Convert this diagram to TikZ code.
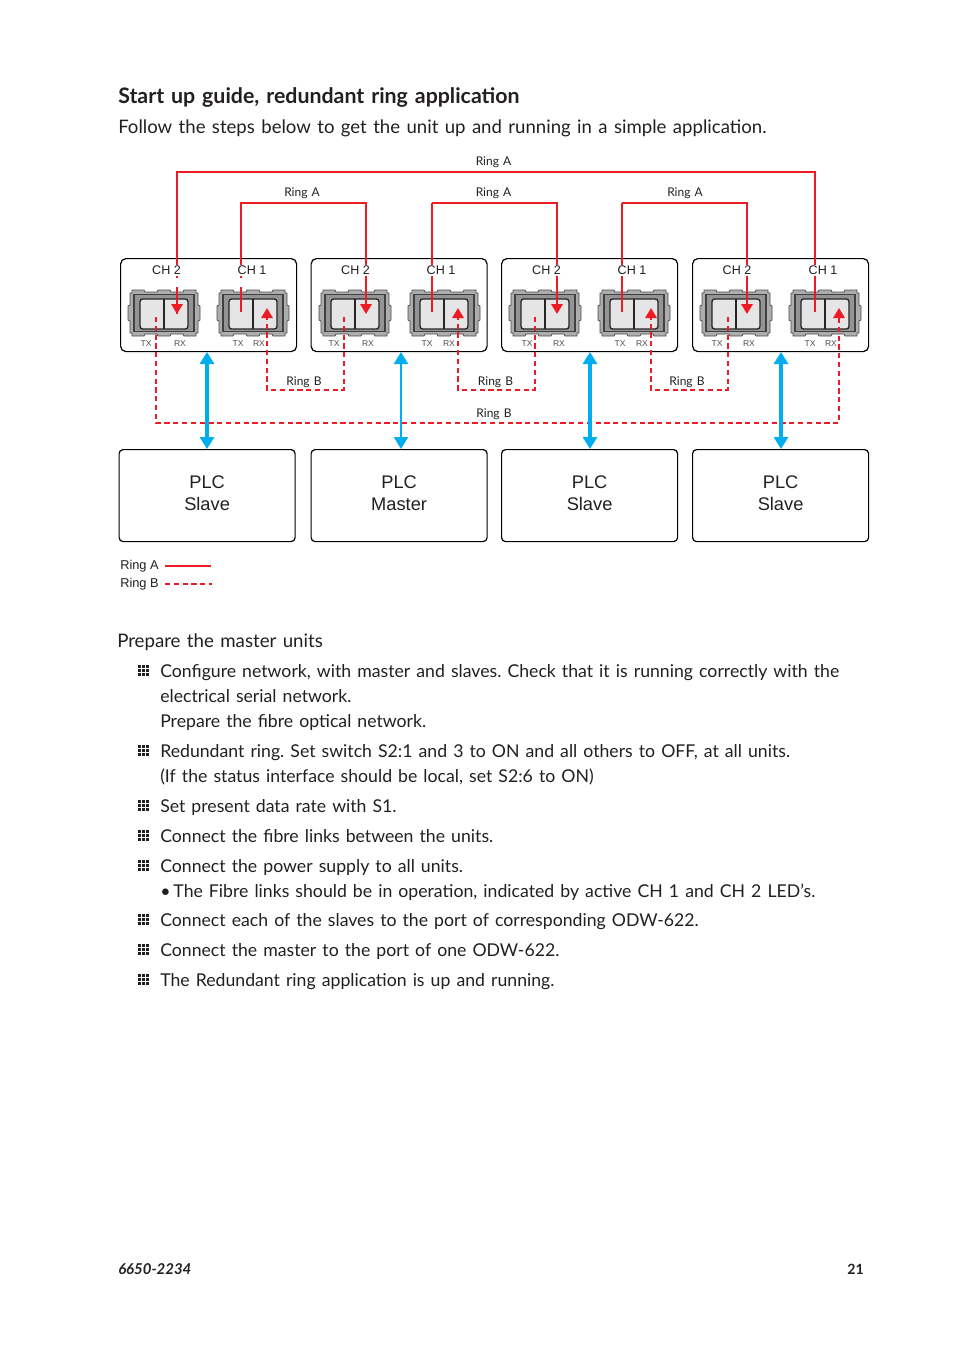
\documentclass[tikz,border=0pt]{standalone}
\usepackage{fontspec}
\setmainfont[WordSpace=1.34]{Lato}
\newfontfamily\labelfont{Liberation Sans}
\usetikzlibrary{arrows.meta}
\definecolor{ringred}{HTML}{ED1C24}
\definecolor{linkblue}{HTML}{00AEEF}
\definecolor{inktext}{HTML}{231F20}
\frenchspacing
\tikzset{
    unitbox/.style={draw=black,line width=0.9pt,rounded corners=4pt},
    plcbox/.style={draw=black,line width=0.9pt,rounded corners=3pt,align=center,text depth=4pt,font=\labelfont\fontsize{13.7}{16.5}\selectfont,text=inktext},
    ringa/.style={draw=ringred,line width=1.5pt},
    ringafat/.style={draw=ringred,line width=2.2pt},
    ringb/.style={draw=ringred,line width=1.5pt,dash pattern=on 3.9pt off 2.7pt},
    redtip/.style={-{Triangle[length=7.5pt,width=8.5pt]}},
    linkarrow/.style={draw=linkblue,line width=2.3pt,{Triangle[length=9pt,width=10.5pt]}-{Triangle[length=9pt,width=10.5pt]}},
    chlabel/.style={font=\labelfont\fontsize{9.4}{11}\selectfont,text=inktext,fill=white,inner sep=0.6pt},
    portlabel/.style={font=\labelfont\fontsize{6.4}{8}\selectfont,text=inktext!80,inner sep=0pt},
    ringlabel/.style={font=\fontsize{9}{11}\selectfont,text=inktext,inner sep=0pt},
    legendlabel/.style={font=\labelfont\fontsize{9.6}{11}\selectfont,text=inktext,inner sep=0pt,anchor=west},
    bodyline/.style={font=\fontsize{13.25}{16}\selectfont,text=inktext,inner sep=0pt,anchor=base west},
    pics/fibreport/.style={code={
        \draw[fill=black!32,draw=black!70,line width=0.6pt] (4,0) -- (16,0) -- (17,2) -- (29,2) -- (30,0) -- (42,0) -- (43,2) -- (55,2) -- (56,0) -- (68,0) -- (68,3) -- (70,3) -- (70,15) -- (72,16) -- (72,30) -- (70,31) -- (70,43) -- (68,43) -- (68,46) -- (56,46) -- (55,44) -- (43,44) -- (42,46) -- (30,46) -- (29,44) -- (17,44) -- (16,46) -- (4,46) -- (4,43) -- (2,43) -- (2,31) -- (0,30) -- (0,16) -- (2,15) -- (2,3) -- (4,3) -- cycle;
        \draw[fill=black!42,draw=black!75,line width=0.9pt] (6,4.5) rectangle (66,41.5);
        \draw[fill=black!10,draw=black!85,line width=1pt,rounded corners=2pt] (12,9) rectangle (60,39);
        \draw[draw=black!85,line width=0.8pt] (36,9) -- (36,39);
    }},
    pics/gridbullet/.style={code={
        \foreach \i in {0,1,2} \foreach \j in {0,1,2}
            \fill[inktext] (4*\i,4*\j) rectangle +(3,3);
    }}
}
\begin{document}
\begin{tikzpicture}[x=0.75pt,y=-0.75pt]
    \useasboundingbox (0,0) rectangle (954,1354);

    % heading
    \node[bodyline,font=\bfseries\fontsize{16}{18}\selectfont] (title) at (118,103) {Start up guide, redundant ring application};
    \node[bodyline,font=\fontsize{13.95}{16}\selectfont] (intro) at (118,133) {Follow the steps below to get the unit up and running in a simple application.};

    % units and ports
    \foreach \n/\ux/\pa/\pb in {1/120/128/217, 2/310.5/319/408, 3/501/509/598, 4/692/700/789} {
        \node[unitbox,minimum width=132pt,minimum height=69.75pt,anchor=north west] (unit\n) at (\ux,258) {};
        \pic at (\pa,290) {fibreport};
        \pic at (\pb,290) {fibreport};
    }

    % end points of the rings
    \foreach \n/\ca/\cb/\tb/\rb in {1/177/241/156/267, 2/366/432/344/458, 3/557/622/535/651, 4/747/815/728/839} {
        \coordinate (rxa\n) at (\ca,314);
        \coordinate (txa\n) at (\cb,312);
        \coordinate (txb\n) at (\tb,317);
        \coordinate (rxb\n) at (\rb,308);
    }
    \coordinate (topleft) at (177,172);
    \coordinate (topa1) at (241,203);
    \coordinate (topa2) at (432,203);
    \coordinate (topa3) at (622,203);
    \coordinate (lowb1) at (267,390);
    \coordinate (lowb2) at (458,390);
    \coordinate (lowb3) at (651,390);
    \coordinate (lowright) at (839,423);

    % ring A
    \draw[ringa,redtip] (txa4) |- (topleft) -- (rxa1);
    \draw[ringafat] (topleft) -- (rxa1);
    \draw[ringa,redtip] (txa1) |- (topa1) -| (rxa2);
    \draw[ringafat] (topa1) -- (txa1);
    \draw[ringa] (txa2) -- (topa2);
    \draw[ringafat,redtip] (topa2) -| (rxa3);
    \draw[ringa] (txa3) -- (topa3);
    \draw[ringafat,redtip] (topa3) -| (rxa4);

    % ring B
    \draw[ringb,redtip] (txb2) |- (lowb1) -- (rxb1);
    \draw[ringb,redtip] (txb3) |- (lowb2) -- (rxb2);
    \draw[ringb,redtip] (txb4) |- (lowb3) -- (rxb3);
    \draw[ringb,redtip] (txb1) |- (lowright) -- (rxb4);

    % labels in the units
    \foreach \n/\xa/\xb in {1/166.5/252, 2/355.5/441, 3/546.5/632, 4/737/823} {
        \node[chlabel] (chtwo\n) at (\xa,270.5) {CH 2};
        \node[chlabel] (chone\n) at (\xb,270.5) {CH 1};
    }
    \foreach \n/\xa/\xb/\xc/\xd in {1/146/180/238/259, 2/334/368/427/449, 3/527/559/620/642, 4/717/749/810/831} {
        \node[portlabel] (txtwo\n) at (\xa,344) {TX};
        \node[portlabel] (rxtwo\n) at (\xb,344) {RX};
        \node[portlabel] (txone\n) at (\xc,344) {TX};
        \node[portlabel] (rxone\n) at (\xd,344) {RX};
    }
    \foreach \x in {177,241} \fill[white] (\x-3,278) rectangle (\x+3,287);

    % ring names
    \node[ringlabel] (nameatop) at (493.5,162) {Ring A};
    \node[ringlabel] (namea1) at (302,193) {Ring A};
    \node[ringlabel] (namea2) at (493.5,193) {Ring A};
    \node[ringlabel] (namea3) at (685,193) {Ring A};
    \node[ringlabel] (nameb1) at (304,382) {Ring B};
    \node[ringlabel] (nameb2) at (495.5,382) {Ring B};
    \node[ringlabel] (nameb3) at (687,382) {Ring B};
    \node[ringlabel] (namebot) at (494,414) {Ring B};

    % PLC boxes
    \node[plcbox,minimum width=132pt,minimum height=69pt,anchor=north west] (plc1) at (118.5,449) {PLC\\Slave};
    \node[plcbox,minimum width=132pt,minimum height=69pt,anchor=north west] (plc2) at (310.5,449) {PLC\\Master};
    \node[plcbox,minimum width=132pt,minimum height=69pt,anchor=north west] (plc3) at (501,449) {PLC\\Slave};
    \node[plcbox,minimum width=132pt,minimum height=69pt,anchor=north west] (plc4) at (692,449) {PLC\\Slave};

    \coordinate (link1) at (207,352);
    \coordinate (link2) at (401,352);
    \coordinate (link3) at (590,352);
    \coordinate (link4) at (781,352);
    \foreach \n in {1,3,4}
        \draw[linkarrow] (link\n) -- (link\n |- plc\n.north);
    \draw[linkarrow,line width=1.6pt] (link2) -- (link2 |- plc2.north);

    % legend
    \node[legendlabel] (keya) at (120,566) {Ring A};
    \node[legendlabel] (keyb) at (120,584) {Ring B};
    \coordinate (keyaend) at (211,566);
    \coordinate (keybend) at (212,584);
    \draw[ringa,line width=1.2pt] (keya.east) ++(6,0) -- (keyaend);
    \draw[ringb,line width=1.2pt] (keyb.east) ++(6,0) -- (keybend);

    % list
    \node[bodyline,font=\fontsize{14}{16}\selectfont] (prepare) at (117,647) {Prepare the master units};
    \foreach \y in {665,745,800,830,860,914,944,974}
        \pic at (138,\y) {gridbullet};

    \node[bodyline] (line1) at (160,677) {Configure network, with master and slaves. Check that it is running correctly with the};
    \node[bodyline] (line2) at (160,702) {electrical serial network.};
    \node[bodyline] (line3) at (160,727) {Prepare the fibre optical network.};
    \node[bodyline] (line4) at (160,757) {Redundant ring. Set switch S2:1 and 3 to ON and all others to OFF, at all units.};
    \node[bodyline] (line5) at (160,782) {(If the status interface should be local, set S2:6 to ON)};
    \node[bodyline] (line6) at (160,812) {Set present data rate with S1.};
    \node[bodyline] (line7) at (160,842) {Connect the fibre links between the units.};
    \node[bodyline] (line8) at (160,872) {Connect the power supply to all units.};
    \node[bodyline] (line9) at (160,897) {•\,The Fibre links should be in operation, indicated by active CH 1 and CH 2 LED’s.};
    \node[bodyline] (line10) at (160,926) {Connect each of the slaves to the port of corresponding ODW-622.};
    \node[bodyline] (line11) at (160,956) {Connect the master to the port of one ODW-622.};
    \node[bodyline] (line12) at (160,986) {The Redundant ring application is up and running.};

    % footer
    \node[bodyline,font=\bfseries\itshape\fontsize{11.2}{14}\selectfont] (partno) at (118,1274) {6650-2234};
    \node[bodyline,font=\bfseries\fontsize{10.6}{14}\selectfont,anchor=base east] (pageno) at (864,1274) {21};
\end{tikzpicture}
\end{document}
